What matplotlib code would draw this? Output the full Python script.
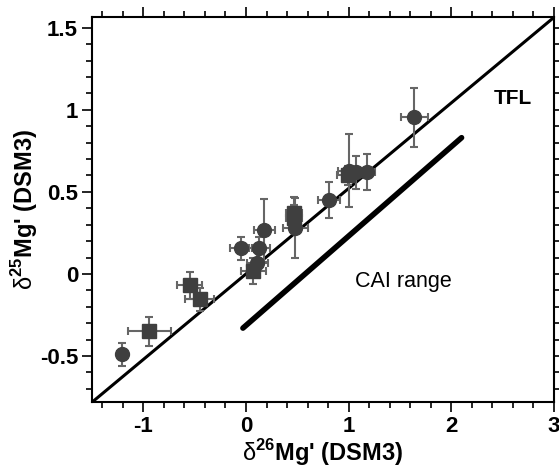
import matplotlib
matplotlib.use("Agg")
import matplotlib.pyplot as plt
from matplotlib.ticker import MultipleLocator

plt.rcParams['font.family'] = ['Liberation Sans', 'DejaVu Sans']
plt.rcParams['mathtext.fontset'] = 'custom'
plt.rcParams['mathtext.rm'] = 'Liberation Sans'
plt.rcParams['mathtext.bf'] = 'Liberation Sans:bold'

# circles
cx = [-1.21, -0.05, 0.13, 0.18, 0.11, 0.48, 0.81, 1.00, 1.07, 1.18, 1.64]
cy = [-0.49, 0.155, 0.155, 0.265, 0.065, 0.28, 0.45, 0.63, 0.62, 0.62, 0.955]
cxe = [0.05, 0.11, 0.10, 0.10, 0.10, 0.12, 0.11, 0.10, 0.10, 0.08, 0.13]
cye = [0.07, 0.07, 0.07, 0.19, 0.07, 0.18, 0.11, 0.22, 0.10, 0.11, 0.18]
# squares
sx = [-0.94, -0.55, -0.45, 0.07, 0.47, 0.47, 0.99]
sy = [-0.35, -0.07, -0.155, 0.02, 0.37, 0.34, 0.60]
sxe = [0.21, 0.12, 0.14, 0.12, 0.08, 0.08, 0.10]
sye = [0.09, 0.08, 0.07, 0.08, 0.10, 0.08, 0.06]

tfl_slope = 0.521
cai_x = [-0.03, 2.10]
cai_y = [-0.33, 0.83]

fig = plt.figure(figsize=(5.59, 4.70), dpi=100)
ax = fig.add_axes([0.1646, 0.1447, 0.8264, 0.8191])

xlim = (-1.5, 3.0)
ylim = (-0.78, 1.565)
ax.plot(xlim, [tfl_slope * xlim[0], tfl_slope * xlim[1]], color='black', lw=2.2, zorder=2)
ax.plot(cai_x, cai_y, color='black', lw=4, solid_capstyle='round', zorder=2)

mc = '#3f3f3f'
ec = '#666666'
ax.errorbar(cx, cy, xerr=cxe, yerr=cye, fmt='o', ms=10, mfc=mc, mec=mc,
            ecolor=ec, elinewidth=1.5, capsize=3, capthick=1.5, zorder=3)
ax.errorbar(sx, sy, xerr=sxe, yerr=sye, fmt='s', ms=9.5, mfc=mc, mec=mc,
            ecolor=ec, elinewidth=1.5, capsize=3, capthick=1.5, zorder=3)

ax.set_xlim(*xlim)
ax.set_ylim(*ylim)

ax.text(2.6, 1.07, 'TFL', fontsize=15, fontweight='bold', ha='center', va='center')
ax.text(1.53, -0.045, 'CAI range', fontsize=15.5, ha='center', va='center')

ax.xaxis.set_major_locator(MultipleLocator(1))
ax.xaxis.set_minor_locator(MultipleLocator(0.2))
ax.yaxis.set_major_locator(MultipleLocator(0.5))
ax.yaxis.set_minor_locator(MultipleLocator(0.1))
ax.set_xticks([-1, 0, 1, 2, 3])
ax.set_xticklabels(['-1', '0', '1', '2', '3'])
ax.set_yticks([-0.5, 0, 0.5, 1, 1.5])
ax.set_yticklabels(['-0.5', '0', '0.5', '1', '1.5'])

ax.tick_params(which='both', direction='out', top=True, right=True, width=1.2)
ax.tick_params(which='major', length=7, labelsize=16, pad=3)
ax.tick_params(which='minor', length=4)
for lab in ax.get_xticklabels() + ax.get_yticklabels():
    lab.set_fontweight('bold')
for s in ax.spines.values():
    s.set_linewidth(1.5)

ax.set_xlabel(r"$\mathrm{δ}^{\mathbf{26}}$" + "Mg' (DSM3)", fontsize=17, fontweight='bold', labelpad=0)
ax.set_ylabel(r"$\mathrm{δ}^{\mathbf{25}}$" + "Mg' (DSM3)", fontsize=17, fontweight='bold', labelpad=0)

fig.savefig('out.png', dpi=100)
